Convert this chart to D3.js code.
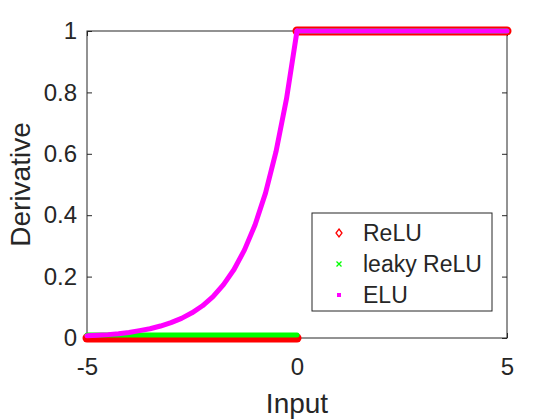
<!DOCTYPE html>
<html>
<head>
<meta charset="utf-8">
<script src="https://cdn.jsdelivr.net/npm/d3@7"></script>
<style>
body{margin:0;background:#fff}
text{font-family:"Liberation Sans",Arial,sans-serif;fill:#262626}
</style>
</head>
<body>
<svg id="svg" width="560" height="420"></svg>
<script>
var width=+d3.select("#svg").attr("width")
var height=+d3.select("#svg").attr("height")

// values
var xNeg=[-5,-4.75,-4.5,-4.25,-4,-3.75,-3.5,-3.25,-3,-2.75,-2.5,-2.25,-2,-1.75,-1.5,-1.25,-1,-0.75,-0.5,-0.25,0]
var xPos=[0,0.5,1,1.5,2,2.5,3,3.5,4,4.5,5]
var reluNeg=[0,0,0,0,0,0,0,0,0,0,0,0,0,0,0,0,0,0,0,0,0]
var reluPos=[1,1,1,1,1,1,1,1,1,1,1]
var leakyNeg=[0.01,0.01,0.01,0.01,0.01,0.01,0.01,0.01,0.01,0.01,0.01,0.01,0.01,0.01,0.01,0.01,0.01,0.01,0.01,0.01,0.01]
var leakyPos=[1,1,1,1,1,1,1,1,1,1,1]
var eluNeg=[0.007,0.009,0.011,0.014,0.018,0.024,0.030,0.039,0.050,0.064,0.082,0.105,0.135,0.174,0.223,0.287,0.368,0.472,0.607,0.779,1]
var eluPos=[1,1,1,1,1,1,1,1,1,1,1]
var seriesNames=["ReLU","leaky ReLU","ELU"]
var seriesColors=["#ff0000","#00ff00","#ff00ff"]
var xTicks=[-5,0,5]
var yTicks=[0,0.2,0.4,0.6,0.8,1]

var margin={left:87,right:53,top:31,bottom:82}
var svg=d3.select("#svg")

var x=d3.scaleLinear().domain([-5,5]).range([margin.left,width-margin.right])
var y=d3.scaleLinear().domain([0,1]).range([height-margin.bottom,margin.top])

//axes box
var plot=svg.append("g")
plot.append("rect")
    .attr("x",x(-5)).attr("y",y(1))
    .attr("width",x(5)-x(-5)).attr("height",y(0)-y(1))
    .style("fill","none").style("stroke","#262626").style("stroke-width",1)

//ticks, inward on all four sides
var tl=5
var tickFont="24px"
var xg=plot.append("g").attr("transform","translate(0,"+y(0)+")")
    .call(d3.axisBottom(x).tickValues(xTicks).tickSize(-tl).tickPadding(20).tickFormat(d=>String(d)))
var xt=plot.append("g").attr("transform","translate(0,"+y(1)+")")
    .call(d3.axisTop(x).tickValues(xTicks).tickSize(-tl).tickFormat(""))
var yg=plot.append("g").attr("transform","translate("+x(-5)+",0)")
    .call(d3.axisLeft(y).tickValues(yTicks).tickSize(-tl).tickPadding(10).tickFormat(d=>String(+d.toFixed(1))))
var yr=plot.append("g").attr("transform","translate("+x(5)+",0)")
    .call(d3.axisRight(y).tickValues(yTicks).tickSize(-tl).tickFormat(""))
plot.selectAll(".domain").remove()
plot.selectAll(".tick line").style("stroke","#262626")
plot.selectAll(".tick text").style("font-size",tickFont).style("font-family","Liberation Sans,Arial,sans-serif").style("fill","#262626")

//curves (dense markers look like thick lines)
var line=d3.line().x(d=>x(d[0])).y(d=>y(d[1]))
var curves=[
    {name:"ReLU",parts:[d3.zip(xNeg,reluNeg),d3.zip(xPos,reluPos)],w:9},
    {name:"leaky ReLU",parts:[d3.zip(xNeg,leakyNeg),d3.zip(xPos,leakyPos)],w:5},
    {name:"ELU",parts:[d3.zip(xNeg,eluNeg),d3.zip(xPos,eluPos)],w:5}
]
curves.forEach((c,i)=>{
    svg.append("g").selectAll("path")
        .data(c.parts)
        .enter().append("path")
            .attr("d",line)
            .style("fill","none")
            .style("stroke",seriesColors[i])
            .style("stroke-width",c.w)
            .style("stroke-linecap","round")
            .style("stroke-linejoin","round")
})

//axis labels
svg.append("text")
    .attr("x",x(0)).attr("y",413)
    .attr("text-anchor","middle")
    .style("font-size","28px")
    .text("Input")
svg.append("text")
    .attr("transform","translate(30,"+(y(0.5))+") rotate(-90)")
    .attr("text-anchor","middle")
    .style("font-size","28px")
    .text("Derivative")

//legend
var legend=svg.append("g").attr("transform","translate(312,213)")
legend.append("rect")
    .attr("width",180).attr("height",98)
    .style("fill","#fff").style("stroke","#262626").style("stroke-width",1)
var item=legend.selectAll("g.item")
    .data(seriesNames)
    .enter().append("g")
        .attr("class","item")
        .attr("transform",(d,i)=>"translate(27,"+(20+i*31)+")")
item.append("text")
    .attr("x",24).attr("dy","0.36em")
    .style("font-size","23px")
    .text(d=>d)
item.filter((d,i)=>i==0).append("path")
    .attr("d","M0,-4L3,0L0,4L-3,0Z")
    .style("fill","none").style("stroke",seriesColors[0]).style("stroke-width",1.3)
item.filter((d,i)=>i==1).append("path")
    .attr("d","M-2.5,-2.5L2.5,2.5M-2.5,2.5L2.5,-2.5")
    .style("stroke",seriesColors[1]).style("stroke-width",1.3)
item.filter((d,i)=>i==2).append("rect")
    .attr("x",-2).attr("y",-2).attr("width",4).attr("height",4)
    .style("fill",seriesColors[2])
</script>
</body>
</html>
